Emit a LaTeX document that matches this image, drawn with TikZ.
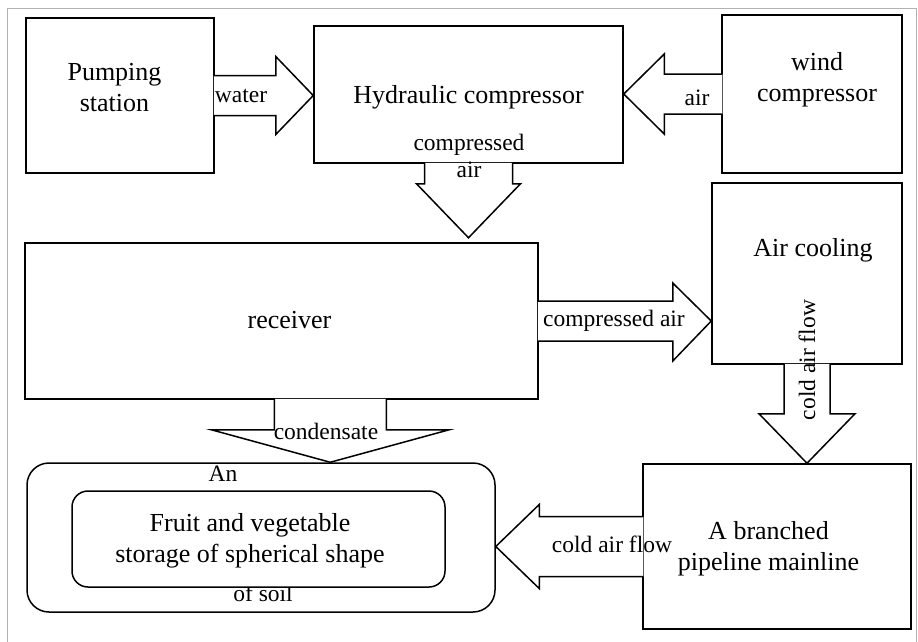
\documentclass[tikz,border=0pt]{standalone}
\usepackage{fontspec}
\setmainfont{Liberation Serif}
\usetikzlibrary{calc}

\begin{document}
\begin{tikzpicture}[x=1pt, y=-1pt,
    box/.style={draw, fill=white, line width=1.5pt, inner sep=0pt},
    blockarrow/.style={draw, fill=white, line width=1.5pt, line join=miter},
    txt/.style={font=\fontsize{26}{31}\selectfont, align=center, inner sep=0pt},
    lbl/.style={font=\fontsize{23.5}{27}\selectfont, align=center, inner sep=0pt}]
    \useasboundingbox (0,0) rectangle (918,641);
    \draw[gray!60, line width=0.8pt] (7,8) rectangle (916.5,660);

    % boxes
    \node[box, minimum width=188pt, minimum height=155pt] (pump) at (120,95.5) {};
    \node[box, minimum width=309pt, minimum height=137pt] (hyd) at (468.5,94.5) {};
    \node[box, minimum width=180pt, minimum height=158pt] (wind) at (812,94) {};
    \node[box, minimum width=513pt, minimum height=156pt] (recv) at (281.5,321) {};
    \node[box, minimum width=190pt, minimum height=181pt] (cool) at (807,273.5) {};
    \node[box, minimum width=268pt, minimum height=165pt] (pipe) at (777,546.5) {};
    \node[box, rounded corners=22pt, minimum width=468pt, minimum height=149pt] (store) at (261,537.5) {};
    \node[lbl] (storean) at (223,474) {An};
    \node[lbl] (storesoil) at (263,593) {of soil};
    \node[box, rounded corners=16pt, minimum width=373pt, minimum height=96pt] (inner) at (258.5,539) {};
    \coordinate (drain) at ($(recv.south west)+(306,0)$);

    % block arrows
    \filldraw[blockarrow] ($(pump.east)+(-1,-20)$) -- ++(62,0) -- ++(0,-19) -- (hyd.west |- pump.east)
        -- ($(pump.east)+(61,39)$) -- ++(0,-19) -- ++(-62,0);
    \filldraw[blockarrow] ($(wind.west)+(1,-20)$) -- ++(-58,0) -- ++(0,-20) -- (hyd.east |- wind.west)
        -- ($(wind.west)+(-57,40)$) -- ++(0,-20) -- ++(58,0);
    \filldraw[blockarrow] ($(hyd.south)+(-44,-1)$) -- ++(0,21) -- ++(-8,0) -- ($(hyd.south)+(0,74)$)
        -- ($(hyd.south)+(52,20)$) -- ++(-8,0) -- ++(0,-21);
    \filldraw[blockarrow] ($(recv.east)+(-1,-20)$) -- ++(135,0) -- ++(0,-18) -- (cool.west |- recv.east)
        -- ($(recv.east)+(134,40)$) -- ++(0,-20) -- ++(-135,0);
    \filldraw[blockarrow] ($(cool.south)+(-23,-1)$) -- ++(0,50) -- ++(-25,0) -- (cool.south |- pipe.north)
        -- ($(cool.south)+(48,49)$) -- ++(-25,0) -- ++(0,-50);
    \filldraw[blockarrow] ($(pipe.west)+(1,-30)$) -- ++(-104,0) -- ++(0,-12) -- (store.east |- pipe.west)
        -- ($(pipe.west)+(-103,42)$) -- ++(0,-12) -- ++(104,0);
    \filldraw[blockarrow] ($(drain)+(-56,-1)$) -- ++(0,31) -- ++(-63,0) -- (drain |- store.north)
        -- ($(drain)+(119,30)$) -- ++(-63,0) -- ++(0,-31);

    % texts
    \node[txt] (pumptxt) at (114.5,88) {Pumping\\station};
    \node[txt] (hydtxt) at (468.5,97) {Hydraulic compressor};
    \node[txt] (windtxt) at (817,80) {wind\\compressor};
    \node[txt] (recvtxt) at (289.5,320) {receiver};
    \node[txt] (cooltxt) at (813,250) {Air cooling};
    \node[txt] (pipetxt) at (768.5,549) {A branched\\pipeline mainline};
    \node[txt] (innertxt) at (250,541) {Fruit and vegetable\\storage of spherical shape};

    % flow labels
    \node[lbl] (watertxt) at (241,96) {water};
    \node[lbl] (airtxt) at (697,98) {air};
    \node[lbl] (hydout) at (469,156) {compressed\\air};
    \node[lbl] (recvout) at (614,321) {compressed air};
    \node[lbl, rotate=90] (coolout) at (807,360) {cold air flow};
    \node[lbl] (pipeout) at (612,544) {cold air flow};
    \node[lbl] (condtxt) at (326,431) {condensate};
\end{tikzpicture}
\end{document}
